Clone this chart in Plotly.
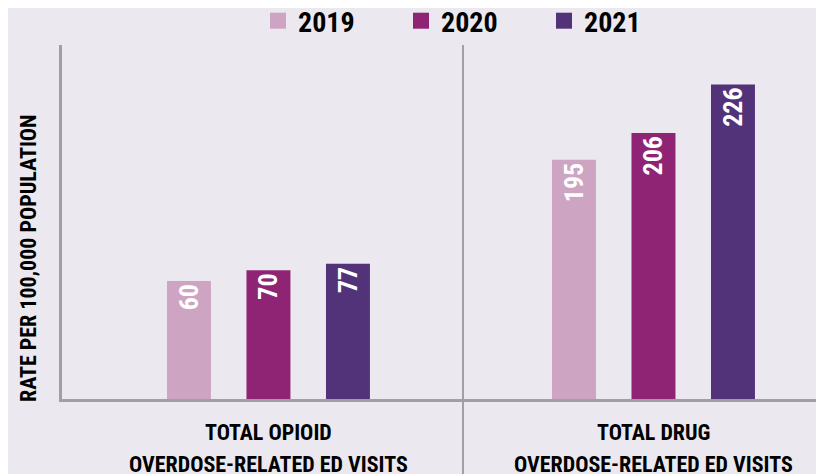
import plotly.graph_objects as go
from plotly.subplots import make_subplots

years = ["2019", "2020", "2021"]
colors = ["#cea4c3", "#8e2473", "#52337a"]
panel_line1 = ["TOTAL OPIOID", "TOTAL DRUG"]
panel_line2 = ["OVERDOSE-RELATED ED VISITS", "OVERDOSE-RELATED ED VISITS"]
opioid = [60, 70, 77]
drug = [195, 206, 226]
y_title = "RATE PER 100,000 POPULATION"

F = "Roboto Condensed, Open Sans Condensed, DejaVu Sans Condensed, sans-serif"
BG = "#ebe9ef"
AX = "#a0a0a4"

# page body adds an 8px offset; compensate in margins
W, H = 824, 474
ml, mr, mt, mb = 54, 8, 37, 83
pw = W - ml - mr
ph = H - mt - mb
split = 401 / pw

fig = make_subplots(rows=1, cols=2, column_widths=[split, 1 - split],
                    horizontal_spacing=0)

for col, vals in ((1, opioid), (2, drug)):
    for j, yr in enumerate(years):
        fig.add_trace(go.Bar(
            x=[yr], y=[vals[j]], width=0.553,
            marker=dict(color=colors[j], line=dict(width=0)),
            text=[str(vals[j])], textposition="inside", insidetextanchor="end",
            textangle=-90,
            insidetextfont=dict(color="white", size=26, family=F, weight="bold"),
            showlegend=False, hoverinfo="skip",
        ), row=1, col=col)

# legend proxies
for j, yr in enumerate(years):
    fig.add_trace(go.Scatter(
        x=[None], y=[None], mode="markers", name=yr,
        marker=dict(symbol="square", size=16, color=colors[j]),
    ), row=1, col=1)


def py(pix):
    # reference-pixel y -> paper fraction (plot bottom at ref y=399)
    return (399 - pix) / ph


def px(pix):
    return (pix - 62) / pw


fig.update_layout(
    width=W, height=H,
    margin=dict(l=ml, r=mr, t=mt, b=mb, pad=0, autoexpand=False),
    paper_bgcolor=BG, plot_bgcolor=BG,
    barmode="overlay",
    font=dict(family=F, color="#000000"),
    legend=dict(orientation="h", x=px(258), xanchor="left",
                y=py(21), yanchor="middle",
                font=dict(size=28, family=F, weight="bold", color="#000000"),
                bgcolor="rgba(0,0,0,0)", entrywidth=98, itemclick=False),
)

fig.update_xaxes(type="category", categoryorder="array", categoryarray=years,
                 showticklabels=False, ticks="", showgrid=False, zeroline=False,
                 showline=True, linecolor=AX, linewidth=2.5)
fig.update_xaxes(range=[-1.597, 3.447], row=1, col=1)
fig.update_xaxes(range=[-1.396, 3.145], row=1, col=2)

fig.update_yaxes(showticklabels=False, ticks="", showgrid=False, zeroline=False)
fig.update_yaxes(type="log", range=[1.0355, 3.2633], showline=True,
                 linecolor=AX, linewidth=2.5, row=1, col=1)
fig.update_yaxes(range=[96.7, 242.2], showline=False, row=1, col=2)

# divider between panels
fig.add_shape(type="line", xref="paper", yref="paper", x0=split, x1=split,
              y0=-(mb + 2) / ph, y1=1, line=dict(color=AX, width=2))

fig.add_annotation(text=y_title, xref="paper", yref="paper",
                   x=px(29), y=py(258), textangle=-90,
                   xanchor="center", yanchor="middle", showarrow=False,
                   font=dict(size=22, family=F, weight="bold", color="#000000"))

for i, xr in enumerate(("x", "x2")):
    fig.add_annotation(text=panel_line1[i], xref=xr, yref="paper", x=1,
                       y=py(432), xanchor="center", yanchor="middle",
                       showarrow=False,
                       font=dict(size=22, family=F, weight="bold", color="#000000"))
    fig.add_annotation(text=panel_line2[i], xref=xr, yref="paper", x=1,
                       y=py(464), xanchor="center", yanchor="middle",
                       showarrow=False,
                       font=dict(size=22, family=F, weight="bold", color="#000000"))

fig.write_html("out.html")
